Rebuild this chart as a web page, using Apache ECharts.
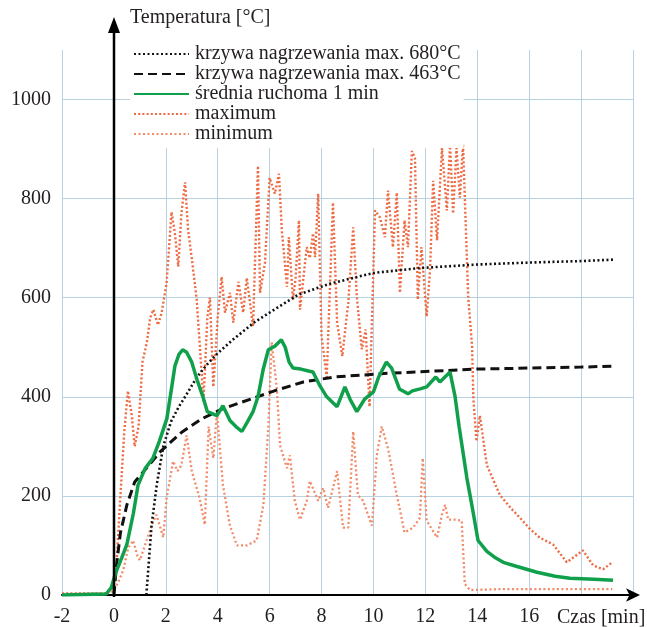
<!DOCTYPE html>
<html>
<head>
<meta charset="utf-8">
<script src="https://cdn.jsdelivr.net/npm/echarts@6/dist/echarts.min.js"></script>
<style>
html,body{margin:0;padding:0;background:#fff;}
#c{width:647px;height:627px;}
</style>
</head>
<body>
<div id="c"></div>
<script>
// ---- data (time [min], temperature [°C]) ----
const seriesNames = ['krzywa nagrzewania max. 680°C','krzywa nagrzewania max. 463°C','średnia ruchoma 1 min','maximum','minimum'];
const xTicks = [-2,0,2,4,6,8,10,12,14,16];
const yTicks = [0,200,400,600,800,1000];

const curve680 = [[1.25,0],[1.45,140],[1.65,222],[1.9,300],[2.2,350],[2.5,380],[2.8,405],[3.2,440],[3.6,466],[4.0,488],[4.6,516],[5.4,550],[6.3,580],[7.1,606],[8.3,628],[10,650],[11.8,660],[14,667],[16,671],[18,674],[19.3,677]];

const curve463 = [[0,0],[0.1,60],[0.25,125],[0.5,182],[0.8,228],[1.25,256],[1.8,290],[2.6,328],[3.4,356],[4.2,376],[5.3,396],[6.3,414],[7.3,430],[8.5,440],[10.4,447],[12,451],[14,456],[16,458],[18,460],[19.3,462]];

const movingAvg = [[-2,0],[-0.3,2],[-0.1,15],[0.05,42],[0.3,75],[0.5,102],[0.75,165],[0.93,222],[1.2,255],[1.5,276],[1.75,310],[2.04,356],[2.2,410],[2.35,462],[2.5,485],[2.65,495],[2.8,490],[3.0,470],[3.2,435],[3.43,400],[3.6,370],[3.97,362],[4.2,382],[4.47,352],[4.7,340],[4.93,330],[5.15,350],[5.36,370],[5.55,400],[5.75,455],[5.95,495],[6.2,502],[6.45,515],[6.6,500],[6.75,470],[6.9,458],[7.2,456],[7.5,452],[7.67,450],[7.94,422],[8.2,400],[8.6,380],[8.9,420],[9.1,395],[9.36,370],[9.67,396],[10.0,410],[10.2,440],[10.5,470],[10.7,458],[11.0,416],[11.33,406],[11.5,412],[11.8,416],[12.05,420],[12.4,440],[12.56,430],[12.95,450],[13.14,402],[13.3,340],[13.6,236],[13.83,170],[14.03,110],[14.37,88],[14.7,75],[15,66],[15.5,58],[16.3,46],[17,38],[17.57,34],[18.5,32],[19.23,30]];

const maxTemp = [[-2,3],[-1,3],[-0.3,3],[-0.1,10],[0.1,60],[0.25,200],[0.4,330],[0.54,412],[0.69,362],[0.8,300],[0.95,340],[1.1,470],[1.27,510],[1.4,560],[1.52,576],[1.7,545],[1.84,570],[2.03,630],[2.22,773],[2.35,730],[2.48,663],[2.6,770],[2.74,833],[2.86,736],[3.0,680],[3.19,596],[3.31,503],[3.45,390],[3.6,560],[3.7,600],[3.83,420],[4.0,560],[4.15,642],[4.28,570],[4.47,610],[4.6,550],[4.8,632],[4.98,570],[5.12,640],[5.36,542],[5.55,866],[5.63,610],[5.82,670],[6.0,842],[6.2,810],[6.36,850],[6.47,736],[6.67,622],[6.74,722],[6.9,596],[7.0,640],[7.13,756],[7.17,576],[7.43,702],[7.55,680],[7.67,730],[7.75,682],[7.87,810],[8.0,522],[8.2,440],[8.44,792],[8.6,550],[8.8,482],[9.03,590],[9.22,742],[9.36,602],[9.55,496],[9.7,536],[9.85,380],[10.06,776],[10.25,762],[10.44,722],[10.56,816],[10.75,702],[10.9,812],[11.02,610],[11.2,756],[11.33,702],[11.48,896],[11.6,882],[11.71,596],[11.85,702],[12.05,562],[12.18,656],[12.3,836],[12.45,716],[12.64,902],[12.83,776],[12.95,910],[13.07,770],[13.2,902],[13.33,802],[13.45,910],[13.65,602],[13.8,502],[13.85,396],[13.97,310],[14.1,362],[14.37,262],[14.87,202],[15.3,175],[15.64,156],[16.0,135],[16.4,116],[16.92,102],[17.45,66],[18.07,90],[18.46,60],[18.85,52],[19.2,66]];

const minTemp = [[-2,2],[-0.3,2],[0,8],[0.2,30],[0.36,50],[0.55,95],[0.74,110],[0.9,80],[1.0,70],[1.26,110],[1.45,140],[1.64,162],[1.9,116],[2.03,196],[2.28,270],[2.45,250],[2.6,262],[2.8,322],[3.0,250],[3.3,196],[3.5,142],[3.65,340],[3.83,276],[3.97,370],[4.2,222],[4.47,140],[4.74,100],[5.12,100],[5.5,110],[5.76,182],[5.95,340],[6.08,510],[6.28,416],[6.4,302],[6.67,256],[6.78,282],[6.97,190],[7.17,152],[7.43,190],[7.55,230],[7.87,190],[8.06,216],[8.25,176],[8.6,250],[8.83,136],[9.03,136],[9.22,330],[9.4,202],[9.6,190],[9.94,140],[10.13,282],[10.32,340],[10.56,296],[10.9,202],[11.2,126],[11.53,136],[11.79,156],[11.9,276],[12.05,150],[12.45,116],[12.64,162],[12.76,182],[12.88,152],[13.14,152],[13.4,150],[13.52,22],[13.72,10],[15,12],[17,12],[19.2,12]];

// ---- chart ----
const FONT = '"Liberation Serif","DejaVu Serif",serif';
const TXT = '#231f20';
const GRIDC = '#b8d2e2';
const chart = echarts.init(document.getElementById('c'), null, {renderer:'canvas'});

function lineSeries(name, data, color, width, type, z) {
  return {
    name: name, type: 'line', data: data, showSymbol: false, symbol: 'none',
    smooth: false, z: z, clip: true,
    lineStyle: {color: color, width: width, type: type},
    itemStyle: {color: color},
    emphasis: {disabled: true}
  };
}

const option = {
  animation: false,
  backgroundColor: '#fff',
  grid: {left: 62, right: 14, top: 50, bottom: 29, containLabel: false},
  xAxis: {
    type: 'value', min: -2, max: 20, interval: 2,
    axisLine: {show: true, onZero: true, lineStyle: {color: '#000', width: 2},
      symbol: ['none', 'arrow'], symbolSize: [10, 14], symbolOffset: [0, 7]},
    axisTick: {show: false},
    axisLabel: {
      fontFamily: FONT, fontSize: 20, color: TXT, margin: 12,
      formatter: v => (xTicks.indexOf(v) >= 0 ? String(v) : '')
    },
    splitLine: {show: true, lineStyle: {color: GRIDC, width: 1}}
  },
  yAxis: {
    type: 'value', min: 0, max: 1100, interval: 200,
    axisLine: {show: false, onZero: false},
    axisTick: {show: false},
    axisLabel: {
      fontFamily: FONT, fontSize: 20, color: TXT, margin: 11,
      formatter: v => (yTicks.indexOf(v) >= 0 ? String(v) : '')
    },
    splitLine: {show: true, lineStyle: {color: [GRIDC, GRIDC, GRIDC, GRIDC, GRIDC, GRIDC, 'rgba(0,0,0,0)'], width: 1}}
  },
  legend: {
    show: true, orient: 'vertical', left: 130, top: 41,
    backgroundColor: '#ffffff', padding: [3, 3, 4, 3],
    itemWidth: 55, itemHeight: 10, itemGap: 0,
    itemStyle: {opacity: 0},
    textStyle: {fontFamily: FONT, fontSize: 20, lineHeight: 19.5, color: TXT, padding: [0,0,0,1]},
    data: seriesNames, z: 20, selectedMode: false
  },
  series: [
    lineSeries(seriesNames[3], maxTemp, '#ee6a42', 2.4, [2, 2.2], 2),
    lineSeries(seriesNames[4], minTemp, '#f28a68', 2.3, [2, 2.5], 2),
    lineSeries(seriesNames[0], curve680, '#111', 2.6, [2, 2.5], 4),
    lineSeries(seriesNames[1], curve463, '#111', 3, [9, 5], 4),
    lineSeries(seriesNames[2], movingAvg, '#10a04c', 3.5, 'solid', 5)
  ]
};
chart.setOption(option);

// y axis line with arrow at x = 0 (positions obtained from the axes)
const p0 = chart.convertToPixel({xAxisIndex: 0, yAxisIndex: 0}, [0, 0]);
const pTop = chart.convertToPixel({xAxisIndex: 0, yAxisIndex: 0}, [0, 1100]);
const ax = Math.round(p0[0]);
chart.setOption({
  graphic: [
    {type: 'line', z: 10, shape: {x1: ax, y1: p0[1] + 2, x2: ax, y2: pTop[1] - 18},
      style: {stroke: '#000', lineWidth: 2.5}},
    {type: 'polygon', z: 10, shape: {points: [[ax - 6, pTop[1] - 17], [ax + 6, pTop[1] - 17], [ax, pTop[1] - 33]]},
      style: {fill: '#000'}},
    {type: 'text', z: 10, left: 130, top: 8,
      style: {text: 'Temperatura [°C]', font: '20px ' + FONT, fill: TXT}},
    {type: 'text', z: 10, left: 557, top: 608,
      style: {text: 'Czas [min]', font: '20px ' + FONT, fill: TXT}}
  ]
});
</script>
</body>
</html>
